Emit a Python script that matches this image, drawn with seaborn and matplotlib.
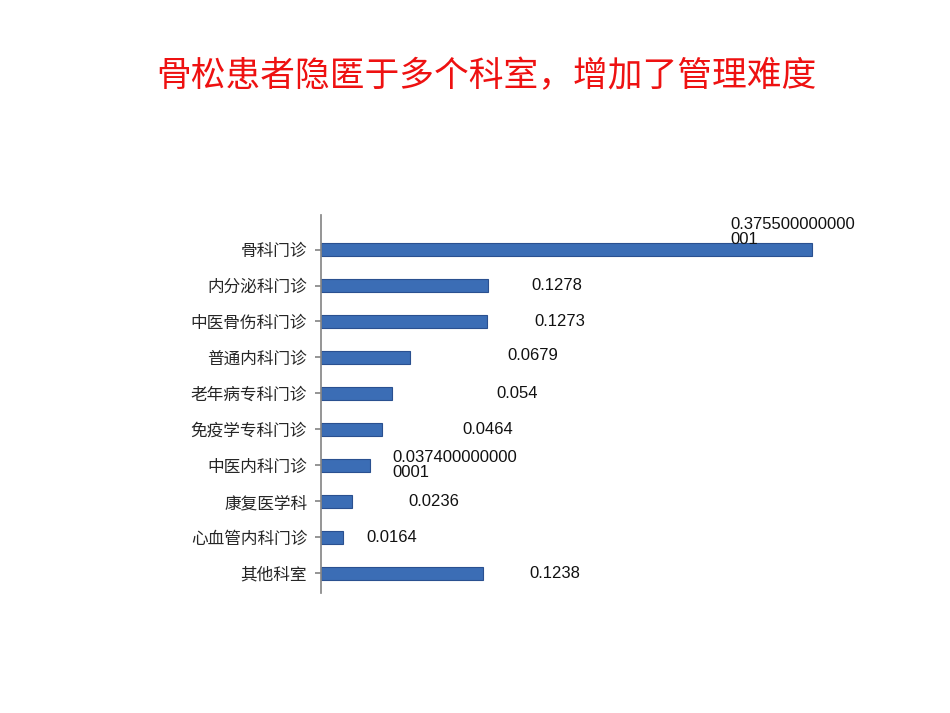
import matplotlib
matplotlib.use("Agg")
import matplotlib.pyplot as plt
import seaborn as sns
import pandas as pd

categories = ["骨科门诊", "内分泌科门诊", "中医骨伤科门诊", "普通内科门诊", "老年病专科门诊",
              "免疫学专科门诊", "中医内科门诊", "康复医学科", "心血管内科门诊", "其他科室"]
values = [0.3755, 0.1278, 0.1273, 0.0679, 0.054, 0.0464, 0.0374, 0.0236, 0.0164, 0.1238]
value_labels = ["0.375500000000\n001", "0.1278", "0.1273", "0.0679", "0.054", "0.0464",
                "0.037400000000\n0001", "0.0236", "0.0164", "0.1238"]

sns.set_theme(style="white")
plt.rcParams['font.family'] = ['Noto Sans CJK SC', 'DejaVu Sans']

fig = plt.figure(figsize=(9.5, 7.13), dpi=100)
ax = fig.add_axes([0.338, 0.168, 0.55, 0.53])
df = pd.DataFrame({"cat": categories, "val": values})
sns.barplot(data=df, x="val", y="cat", ax=ax, color="#3b6db5", edgecolor="#2a5090",
            linewidth=0.8, width=0.38, saturation=1)
ax.set_xlim(0, 0.4)
ax.set_ylim(9.55, -0.95)
ax.set_xlabel(""); ax.set_ylabel("")
ax.set_xticks([])
for s in ["top", "right", "bottom"]:
    ax.spines[s].set_visible(False)
ax.spines["left"].set_color("#888888")
ax.tick_params(axis="y", left=True, length=4, color="#888888", labelsize=12, pad=6)

dx = [-0.062, 0.033, 0.036, 0.075, 0.08, 0.062, 0.017, 0.043, 0.018, 0.036]
dy = [-0.5, 0, 0, -0.05, 0, 0, 0, 0, 0, 0]
for i, (v, t) in enumerate(zip(values, value_labels)):
    ax.text(v + dx[i], i + dy[i], t, va="center", ha="left", fontsize=12,
            family=['Liberation Sans', 'DejaVu Sans'], color="#111111", linespacing=1.0)

fig.text(0.512, 0.893, "骨松患者隐匿于多个科室，增加了管理难度", ha="center", va="center",
         fontsize=25, color="#ee1111")
fig.savefig("out.png", dpi=100)
